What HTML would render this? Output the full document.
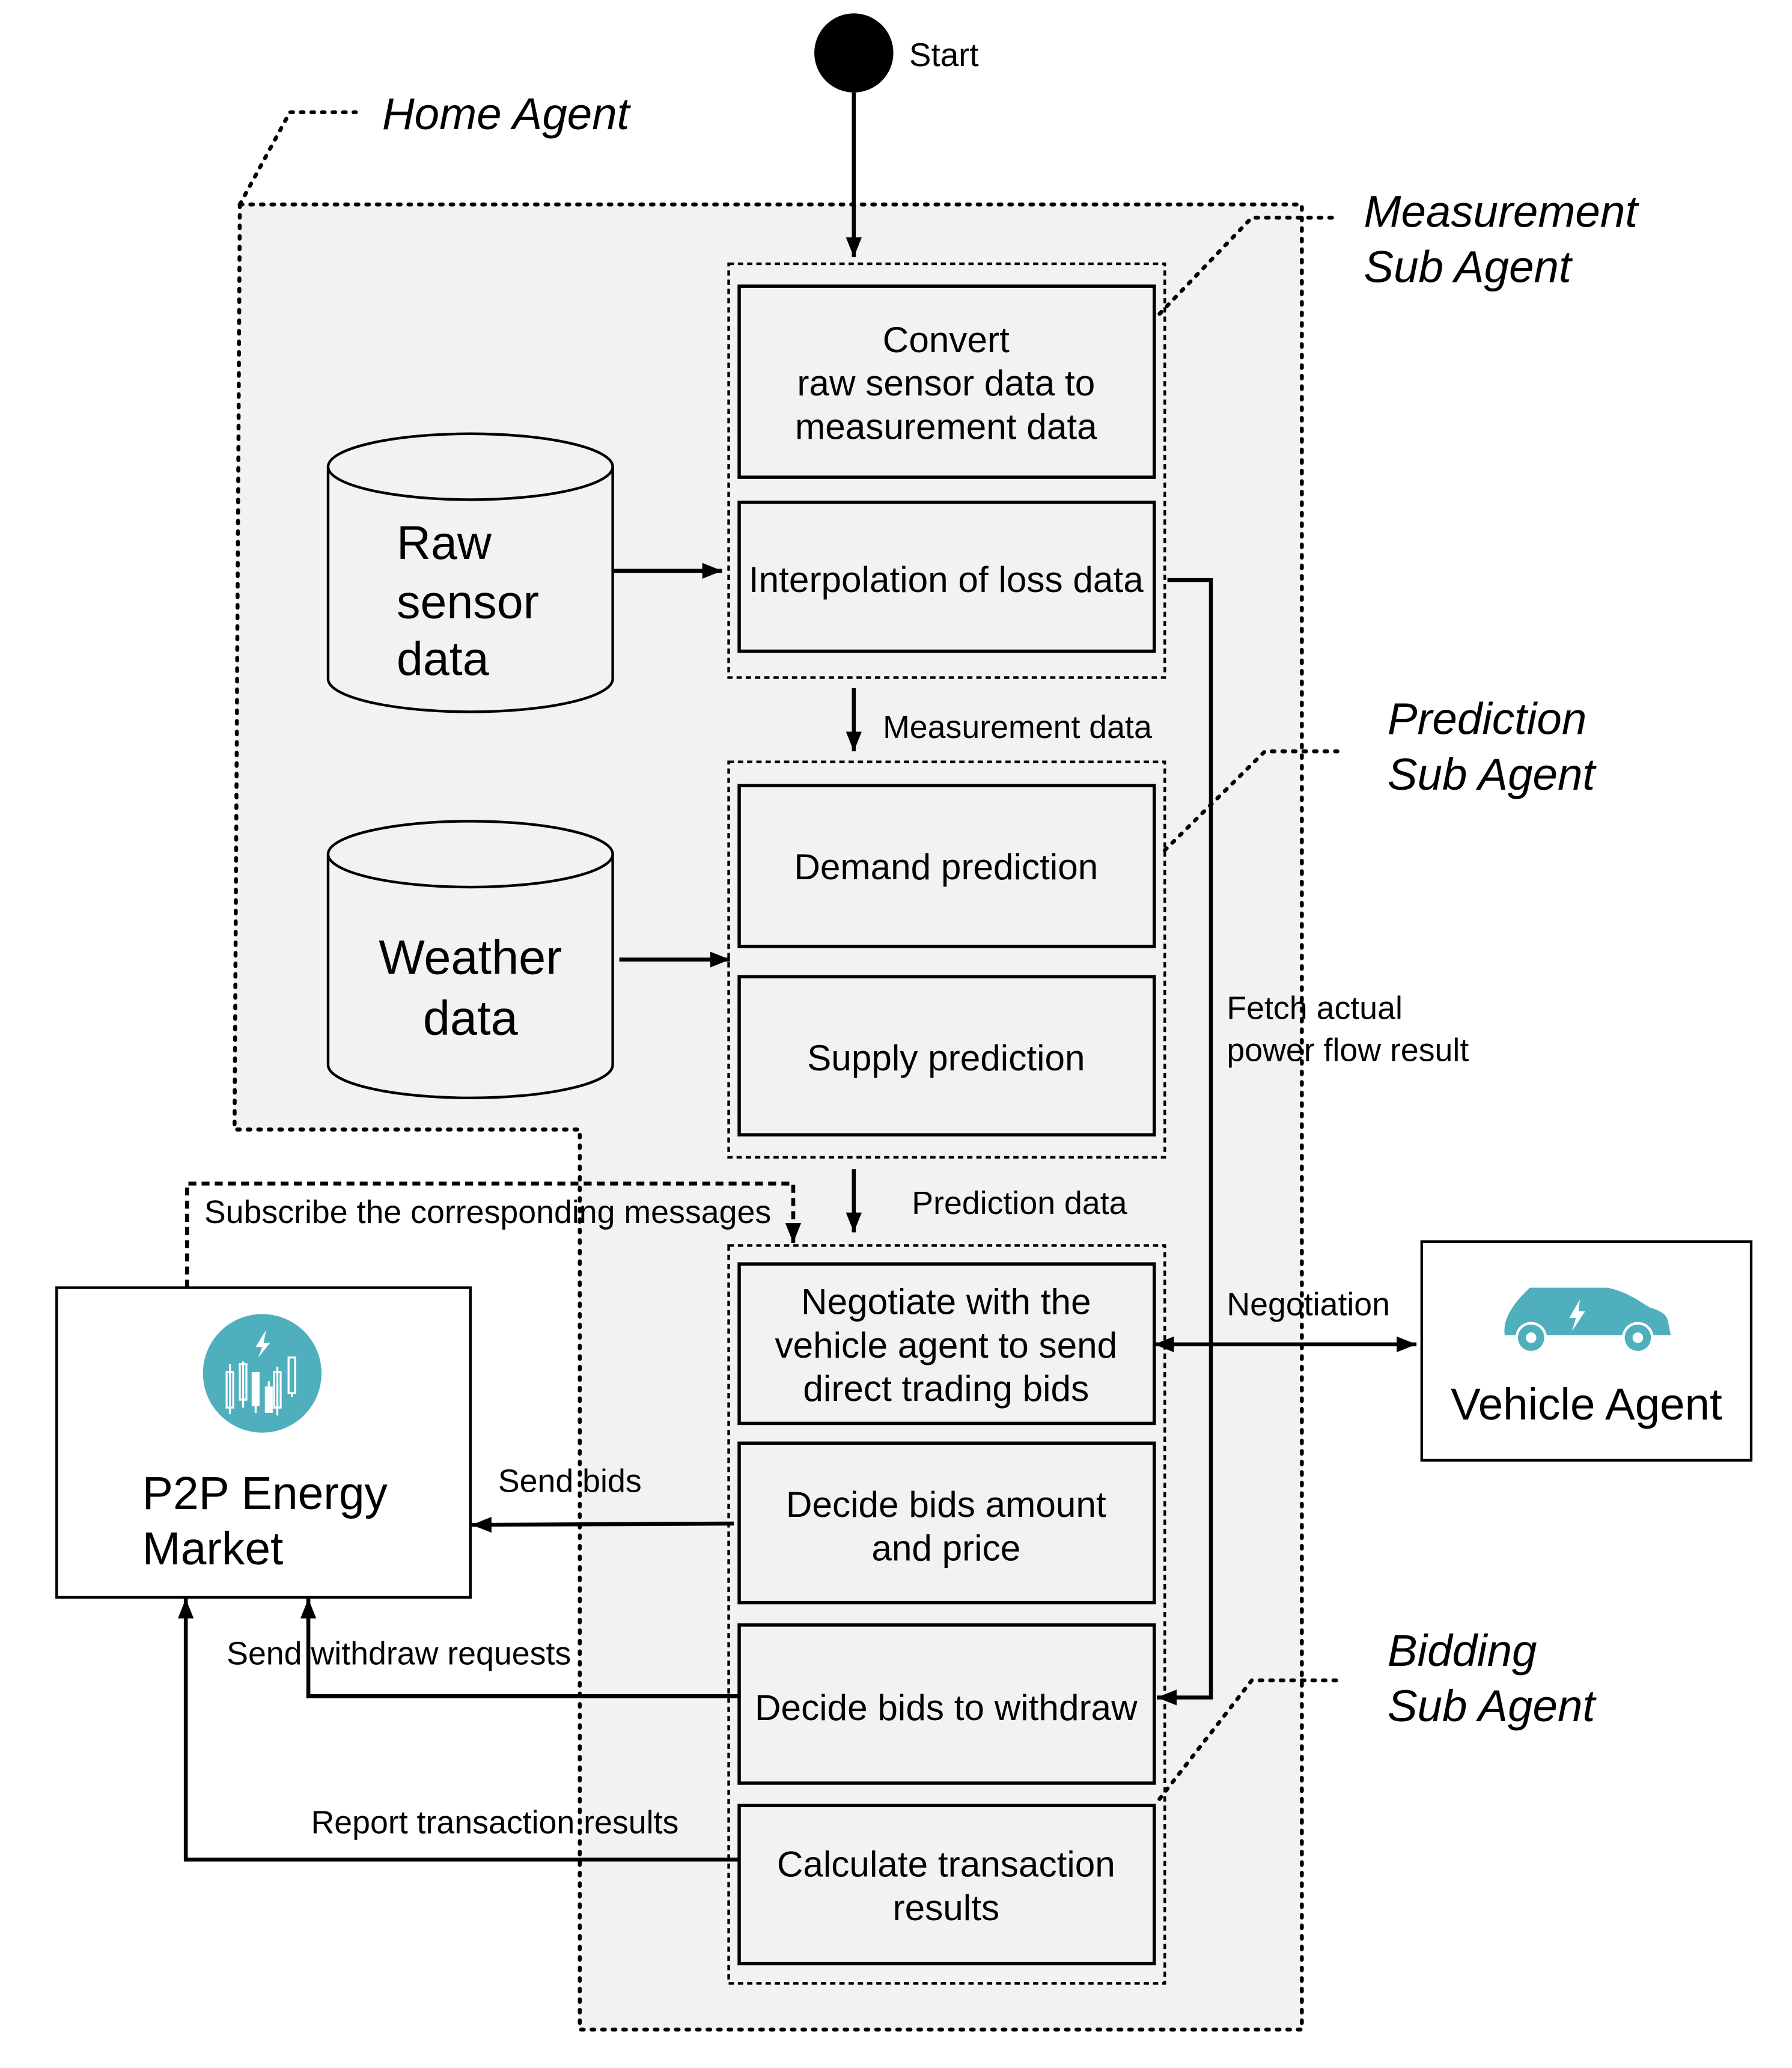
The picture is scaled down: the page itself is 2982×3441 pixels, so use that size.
<!DOCTYPE html>
<html><head><meta charset="utf-8"><style>
html,body{margin:0;padding:0;background:#fff}
svg{display:block}
text{font-family:"Liberation Sans",Arial,sans-serif;fill:#000}
.it{font-style:italic}
</style></head><body>
<svg width="2982" height="3441" viewBox="0 0 1360 1569" xmlns="http://www.w3.org/2000/svg">
<defs>
<marker id="ah" viewBox="0 0 10 10" refX="10" refY="5" markerWidth="5" markerHeight="5" orient="auto-start-reverse"><path d="M0,1 L10,5 L0,9 z" fill="#000"/></marker>
</defs>
<path d="M182,155 L988,155 L988,1540 L440,1540 L440,857 L178,857 Z" fill="#f2f2f2" stroke="none"/>
<path d="M182,155 L988,155 L988,1540 L440,1540 L440,857 L178,857 Z" fill="none" stroke="#000" stroke-width="3" stroke-dasharray="2,6" stroke-linecap="round"/>
<path d="M182,155 L220,85 L270,85" fill="none" stroke="#000" stroke-width="3" stroke-dasharray="2,6" stroke-linecap="round"/>
<text x="290" y="98" font-size="34" class="it">Home Agent</text>

<circle cx="648" cy="40" r="30" fill="#000"/>
<text x="690" y="50" font-size="25">Start</text>
<line x1="648" y1="70" x2="648" y2="195" stroke="#000" stroke-width="3" marker-end="url(#ah)"/>

<g fill="none" stroke="#000" stroke-width="2" stroke-dasharray="4,3">
<rect x="553" y="200" width="331" height="314"/>
<rect x="553" y="578" width="331" height="300"/>
<rect x="553" y="945" width="331" height="560"/>
</g>
<g fill="none" stroke="#000" stroke-width="3" stroke-dasharray="2,6" stroke-linecap="round">
<path d="M880,238 L950,165 L1015,165"/>
<path d="M884,645 L960,570 L1015,570"/>
<path d="M880,1365 L950,1275 L1015,1275"/>
</g>
<text x="1035" y="172" font-size="34" class="it">Measurement</text>
<text x="1035" y="214" font-size="34" class="it">Sub Agent</text>
<text x="1053" y="557" font-size="34" class="it">Prediction</text>
<text x="1053" y="599" font-size="34" class="it">Sub Agent</text>
<text x="1053" y="1264" font-size="34" class="it">Bidding</text>
<text x="1053" y="1306" font-size="34" class="it">Sub Agent</text>

<g fill="none" stroke="#000" stroke-width="2.5">
<rect x="561" y="217" width="315" height="145"/>
<rect x="561" y="381" width="315" height="113"/>
<rect x="561" y="596" width="315" height="122"/>
<rect x="561" y="741" width="315" height="120"/>
<rect x="561" y="959" width="315" height="121"/>
<rect x="561" y="1095" width="315" height="121"/>
<rect x="561" y="1233" width="315" height="120"/>
<rect x="561" y="1370" width="315" height="120"/>
</g>
<g font-size="27.5" text-anchor="middle">
<text x="718" y="267">Convert</text>
<text x="718" y="300">raw sensor data to</text>
<text x="718" y="333">measurement data</text>
<text x="718" y="449">Interpolation of loss data</text>
<text x="718" y="667">Demand prediction</text>
<text x="718" y="812">Supply prediction</text>
<text x="718" y="997">Negotiate with the</text>
<text x="718" y="1030">vehicle agent to send</text>
<text x="718" y="1063">direct trading bids</text>
<text x="718" y="1151">Decide bids amount</text>
<text x="718" y="1184">and price</text>
<text x="718" y="1305">Decide bids to withdraw</text>
<text x="718" y="1424">Calculate transaction</text>
<text x="718" y="1457">results</text>
</g>

<line x1="648" y1="522" x2="648" y2="570" stroke="#000" stroke-width="3" marker-end="url(#ah)"/>
<text x="670" y="560" font-size="24.5">Measurement  data</text>
<line x1="648" y1="887" x2="648" y2="935" stroke="#000" stroke-width="3" marker-end="url(#ah)"/>
<text x="692" y="921" font-size="24.5">Prediction  data</text>

<g fill="#f2f2f2" stroke="#000" stroke-width="2">
<path d="M249,354 L249,515 A108,25 0 0 0 465,515 L465,354"/>
<ellipse cx="357" cy="354" rx="108" ry="25"/>
<path d="M249,648 L249,808 A108,25 0 0 0 465,808 L465,648"/>
<ellipse cx="357" cy="648" rx="108" ry="25"/>
</g>
<text x="301" y="424" font-size="36">Raw</text>
<text x="301" y="469" font-size="36">sensor</text>
<text x="301" y="512" font-size="36">data</text>
<text x="357" y="739" font-size="37" text-anchor="middle">Weather</text>
<text x="357" y="785" font-size="37" text-anchor="middle">data</text>
<line x1="466" y1="433" x2="548" y2="433" stroke="#000" stroke-width="3" marker-end="url(#ah)"/>
<line x1="470" y1="728" x2="554" y2="728" stroke="#000" stroke-width="3" marker-end="url(#ah)"/>

<path d="M886,440 L919,440 L919,1288 L878,1288" fill="none" stroke="#000" stroke-width="3" marker-end="url(#ah)"/>
<text x="931" y="773" font-size="24.5">Fetch actual</text>
<text x="931" y="805" font-size="24.5">power flow result</text>

<line x1="876" y1="1020" x2="1075" y2="1020" stroke="#000" stroke-width="3" marker-start="url(#ah)" marker-end="url(#ah)"/>
<text x="931" y="998" font-size="24.5">Negotiation</text>

<rect x="1079" y="942" width="250" height="166" fill="#fff" stroke="#000" stroke-width="2"/>
<path d="M1142,1013 C1140,1000 1150,988 1158,980 L1161,977 L1220,977 C1235,980 1245,988 1252,992 C1258,994 1265,996 1266,1003 L1268,1013 Z" fill="#4fafbd"/>
<circle cx="1162" cy="1015" r="12" fill="#fff"/><circle cx="1162" cy="1015" r="10" fill="#4fafbd"/><circle cx="1162" cy="1015" r="4" fill="#fff"/>
<circle cx="1243" cy="1015" r="12" fill="#fff"/><circle cx="1243" cy="1015" r="10" fill="#4fafbd"/><circle cx="1243" cy="1015" r="4" fill="#fff"/>
<path d="M1199,986 L1191,1000 L1196,1000 L1193,1010 L1203,995 L1198,995 Z" fill="#fff"/>
<text x="1204" y="1077" font-size="34" text-anchor="middle">Vehicle Agent</text>

<rect x="43" y="977" width="314" height="235" fill="#fff" stroke="#000" stroke-width="2"/>
<circle cx="199" cy="1042" r="45" fill="#4fafbd"/>
<path d="M202,1009 L194,1022 L199,1022 L196,1030 L205,1019 L200,1019 Z" fill="#fff"/>
<g fill="none" stroke="#fff" stroke-width="1.5">
<rect x="172" y="1041" width="5" height="27"/><line x1="174.5" y1="1035" x2="174.5" y2="1073"/>
<rect x="182" y="1035" width="5" height="27"/><line x1="184.5" y1="1033" x2="184.5" y2="1068"/>
<line x1="210.5" y1="1037" x2="210.5" y2="1074"/><rect x="208" y="1041" width="5" height="27"/>
<rect x="219" y="1030" width="5" height="27"/><line x1="221.5" y1="1057" x2="221.5" y2="1060"/>
</g>
<rect x="191" y="1041" width="6" height="26" fill="#fff"/><line x1="194" y1="1067" x2="194" y2="1072" stroke="#fff" stroke-width="1.5"/>
<rect x="201" y="1052" width="6" height="20" fill="#fff"/><line x1="204" y1="1048" x2="204" y2="1052" stroke="#fff" stroke-width="1.5"/>
<text x="108" y="1145" font-size="35">P2P Energy</text>
<text x="108" y="1187" font-size="35">Market</text>

<path d="M142,977 L142,898 L602,898 L602,943" fill="none" stroke="#000" stroke-width="3" stroke-dasharray="6,4" marker-end="url(#ah)"/>
<text x="155" y="928" font-size="24.5">Subscribe the corresponding messages</text>

<line x1="557" y1="1156" x2="358" y2="1157" stroke="#000" stroke-width="3" marker-end="url(#ah)"/>
<text x="378" y="1132" font-size="24.5">Send bids</text>
<path d="M560,1287 L234,1287 L234,1213" fill="none" stroke="#000" stroke-width="3" marker-end="url(#ah)"/>
<text x="172" y="1263" font-size="24.5">Send withdraw  requests</text>
<path d="M560,1411 L141,1411 L141,1213" fill="none" stroke="#000" stroke-width="3" marker-end="url(#ah)"/>
<text x="236" y="1391" font-size="24.5">Report transaction results</text>
</svg>
</body></html>
